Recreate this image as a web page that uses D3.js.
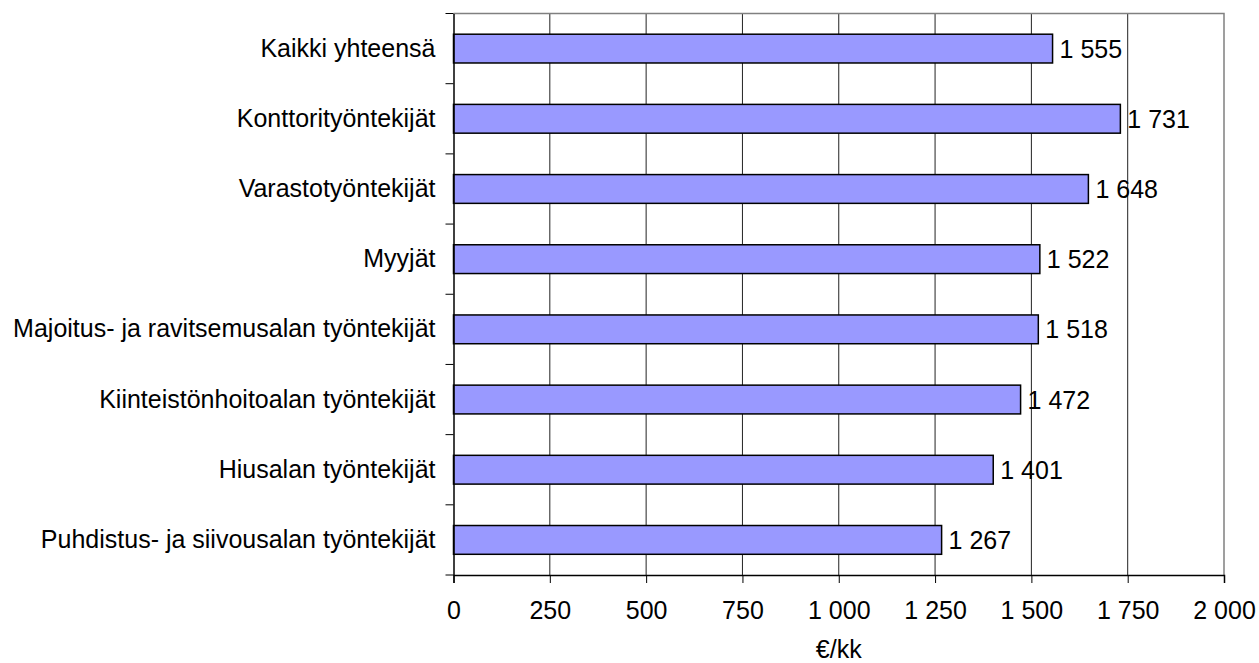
<!DOCTYPE html>
<html><head><meta charset="utf-8">
<script src="https://cdn.jsdelivr.net/npm/d3@7"></script>
<style>body{margin:0;background:#fff}svg{display:block}text{font-family:"Liberation Sans",Arial,sans-serif;fill:#000}</style>
</head><body>
<script>
const categories = ["Kaikki yhteensä","Konttorityöntekijät","Varastotyöntekijät","Myyjät","Majoitus- ja ravitsemusalan työntekijät","Kiinteistönhoitoalan työntekijät","Hiusalan työntekijät","Puhdistus- ja siivousalan työntekijät"];
const values = [1555,1731,1648,1522,1518,1472,1401,1267];
const xTicks = [0,250,500,750,1000,1250,1500,1750,2000];
const axisTitle = "€/kk";

const W=1259,H=663,FS=25;
const m={left:453.5,right:1224,top:13.5,bottom:575};
const svg=d3.select("body").append("svg").attr("width",W).attr("height",H);
const x=d3.scaleLinear().domain([0,2000]).range([m.left,m.right]);
const y=d3.scaleBand().domain(categories).range([m.top,m.bottom]).paddingInner(0.59).paddingOuter(0.295);
const yb=d3.scaleBand().domain(categories).range([m.top,m.bottom]);
const fmt=v=>d3.format(",")(v).replace(/,/g," ");

// gridlines
svg.append("g").selectAll("line").data(xTicks.slice(1,-1)).join("line")
  .attr("x1",d=>x(d)).attr("x2",d=>x(d)).attr("y1",m.top).attr("y2",m.bottom)
  .attr("stroke","#222").attr("stroke-width",1);
// plot border top/right
svg.append("path").attr("d",`M${m.left},${m.top}H${m.right}V${m.bottom}`).attr("fill","none").attr("stroke","#808080").attr("stroke-width",1.5);

// bars
svg.append("g").selectAll("rect").data(values).join("rect")
  .attr("x",x(0)).attr("y",(d,i)=>y(categories[i])).attr("width",d=>x(d)-x(0)).attr("height",y.bandwidth())
  .attr("fill","#9999FF").attr("stroke","#000").attr("stroke-width",1.5);

// value labels
svg.append("g").selectAll("text").data(values).join("text")
  .attr("x",d=>x(d)+7).attr("y",(d,i)=>y(categories[i])+y.bandwidth()/2).attr("dy","0.36em")
  .attr("font-size",FS).text(d=>fmt(d));

// x axis
const xa=svg.append("g").attr("transform",`translate(0,${m.bottom})`)
  .call(d3.axisBottom(x).tickValues(xTicks).tickSize(8).tickPadding(18).tickFormat(fmt));
xa.select(".domain").attr("stroke","#000").attr("stroke-width",1.5);
xa.selectAll(".tick line").attr("stroke","#000");
xa.selectAll("text").attr("font-size",FS).attr("font-family","Liberation Sans, Arial, sans-serif");

// y axis
const ya=svg.append("g").attr("transform",`translate(${m.left},0)`)
  .call(d3.axisLeft(yb).tickSize(0).tickPadding(18));
ya.select(".domain").attr("stroke","#000").attr("stroke-width",1.5);
ya.selectAll("text").attr("font-size",FS).attr("font-family","Liberation Sans, Arial, sans-serif");
// y boundary ticks
const bounds=categories.map(c=>yb(c)).concat([m.bottom]);
svg.append("g").selectAll("line").data(bounds).join("line")
  .attr("x1",m.left-8).attr("x2",m.left).attr("y1",d=>d).attr("y2",d=>d).attr("stroke","#000");

svg.append("text").attr("x",(m.left+m.right)/2).attr("y",658).attr("text-anchor","middle").attr("font-size",FS).text(axisTitle);
</script>
</body></html>
